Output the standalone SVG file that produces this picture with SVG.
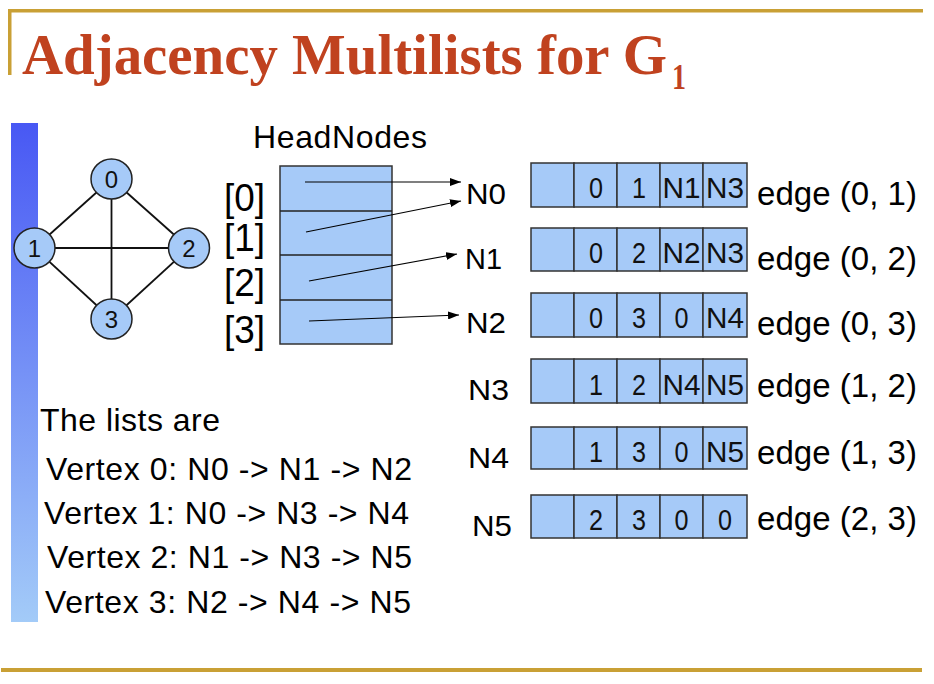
<svg xmlns="http://www.w3.org/2000/svg" width="934" height="684" viewBox="0 0 934 684">
<defs>
<linearGradient id="bar" x1="0" y1="0" x2="0" y2="1">
<stop offset="0" stop-color="#4858F4"/>
<stop offset="1" stop-color="#A3CBF8"/>
</linearGradient>
<marker id="ah" markerWidth="11" markerHeight="8" refX="11" refY="4" orient="auto" markerUnits="userSpaceOnUse">
<path d="M0,0 L11,4 L0,8 Z" fill="#000"/>
</marker>
</defs>
<style>
.t{font-family:"Liberation Sans",Arial,sans-serif;fill:#000}
.cell{fill:#A6CAF8;stroke:#333;stroke-width:1.5}
.ct{font-family:"Liberation Sans",Arial,sans-serif;font-size:29px;text-anchor:middle;fill:#111}
.et{font-family:"Liberation Sans",Arial,sans-serif;font-size:33px;fill:#000}
.nl{font-family:"Liberation Sans",Arial,sans-serif;font-size:30px;fill:#000}
.gn{fill:#A6CAF8;stroke:#222;stroke-width:1.5}
.gt{font-family:"Liberation Sans",Arial,sans-serif;font-size:24px;text-anchor:middle;fill:#111}
.ge{stroke:#111;stroke-width:1.8;fill:none}
.ar{stroke:#000;stroke-width:1.2;fill:none;marker-end:url(#ah)}
</style>
<rect width="934" height="684" fill="#fff"/>
<!-- frame -->
<rect x="8" y="9" width="915" height="3.5" fill="#C9A035"/>
<rect x="8" y="9" width="3.5" height="66" fill="#C9A035"/>
<rect x="1" y="668" width="921" height="4" fill="#C9A035"/>
<rect x="11" y="123" width="27" height="499" fill="url(#bar)"/>
<!-- title -->
<g id="title">
<text x="22" y="74" font-family="'Liberation Serif','Times New Roman',serif" font-weight="bold" font-size="57" fill="#C0421F" textLength="645" lengthAdjust="spacingAndGlyphs">Adjacency Multilists for G</text>
<text x="672" y="89" font-family="'Liberation Serif','Times New Roman',serif" font-weight="bold" font-size="35" fill="#C0421F" textLength="14" lengthAdjust="spacingAndGlyphs">1</text>
</g>
<!-- graph -->
<g id="graph-edges">
<line class="ge" x1="111.5" y1="179" x2="34.5" y2="248"/>
<line class="ge" x1="111.5" y1="179" x2="189" y2="248"/>
<line class="ge" x1="111.5" y1="179" x2="111.5" y2="319"/>
<line class="ge" x1="34.5" y1="248" x2="189" y2="248"/>
<line class="ge" x1="34.5" y1="248" x2="111.5" y2="319"/>
<line class="ge" x1="189" y1="248" x2="111.5" y2="319"/>
</g>
<g id="v0"><ellipse class="gn" cx="111.5" cy="179" rx="20.5" ry="20"/><text class="gt" x="111.5" y="188">0</text></g>
<g id="v1"><ellipse class="gn" cx="34.5" cy="248" rx="20.5" ry="20"/><text class="gt" x="34.5" y="257">1</text></g>
<g id="v2"><ellipse class="gn" cx="189" cy="248" rx="20.5" ry="20"/><text class="gt" x="189" y="257">2</text></g>
<g id="v3"><ellipse class="gn" cx="111.5" cy="319" rx="20.5" ry="20"/><text class="gt" x="111.5" y="328">3</text></g>
<!-- head nodes -->
<g id="headnodes">
<text class="t" x="253" y="148" font-size="32" textLength="174">HeadNodes</text>
<rect class="cell" x="280" y="166" width="112" height="178"/>
<line x1="280" y1="211" x2="392" y2="211" stroke="#222" stroke-width="1.5"/>
<line x1="280" y1="255" x2="392" y2="255" stroke="#222" stroke-width="1.5"/>
<line x1="280" y1="300" x2="392" y2="300" stroke="#222" stroke-width="1.5"/>
<text class="t" x="224" y="211" font-size="39" textLength="41" lengthAdjust="spacingAndGlyphs">[0]</text>
<text class="t" x="224" y="251" font-size="39" textLength="41" lengthAdjust="spacingAndGlyphs">[1]</text>
<text class="t" x="224" y="296" font-size="39" textLength="41" lengthAdjust="spacingAndGlyphs">[2]</text>
<text class="t" x="224" y="343" font-size="39" textLength="41" lengthAdjust="spacingAndGlyphs">[3]</text>
</g>
<g id="connectors">
<line class="ar" x1="305" y1="182" x2="461" y2="182"/>
<line class="ar" x1="306" y1="232" x2="461" y2="201"/>
<line class="ar" x1="309" y1="281" x2="457" y2="254"/>
<line class="ar" x1="309" y1="321" x2="459" y2="315"/>
</g>
<!-- edge nodes -->
<g id="N0">
<text class="nl" x="466" y="204" textLength="40" lengthAdjust="spacingAndGlyphs">N0</text>
<rect class="cell" x="531" y="163" width="43" height="44"/><rect class="cell" x="574" y="163" width="43" height="44"/><rect class="cell" x="617" y="163" width="43" height="44"/><rect class="cell" x="660" y="163" width="43" height="44"/><rect class="cell" x="703" y="163" width="44" height="44"/>
<text class="ct" x="596" y="198" textLength="14" lengthAdjust="spacingAndGlyphs">0</text><text class="ct" x="639" y="198" textLength="14" lengthAdjust="spacingAndGlyphs">1</text><text class="ct" x="681.5" y="198" textLength="38" lengthAdjust="spacingAndGlyphs">N1</text><text class="ct" x="725" y="198" textLength="38" lengthAdjust="spacingAndGlyphs">N3</text>
<text class="et" x="757" y="205" textLength="160">edge (0, 1)</text>
</g>
<g id="N1">
<text class="nl" x="465" y="269" textLength="37" lengthAdjust="spacingAndGlyphs">N1</text>
<rect class="cell" x="531" y="228" width="43" height="43"/><rect class="cell" x="574" y="228" width="43" height="43"/><rect class="cell" x="617" y="228" width="43" height="43"/><rect class="cell" x="660" y="228" width="43" height="43"/><rect class="cell" x="703" y="228" width="44" height="43"/>
<text class="ct" x="596" y="263" textLength="14" lengthAdjust="spacingAndGlyphs">0</text><text class="ct" x="639" y="263" textLength="14" lengthAdjust="spacingAndGlyphs">2</text><text class="ct" x="681.5" y="263" textLength="38" lengthAdjust="spacingAndGlyphs">N2</text><text class="ct" x="725" y="263" textLength="38" lengthAdjust="spacingAndGlyphs">N3</text>
<text class="et" x="757" y="270" textLength="160">edge (0, 2)</text>
</g>
<g id="N2">
<text class="nl" x="466" y="333" textLength="40" lengthAdjust="spacingAndGlyphs">N2</text>
<rect class="cell" x="531" y="293" width="43" height="44"/><rect class="cell" x="574" y="293" width="43" height="44"/><rect class="cell" x="617" y="293" width="43" height="44"/><rect class="cell" x="660" y="293" width="43" height="44"/><rect class="cell" x="703" y="293" width="44" height="44"/>
<text class="ct" x="596" y="328" textLength="14" lengthAdjust="spacingAndGlyphs">0</text><text class="ct" x="639" y="328" textLength="14" lengthAdjust="spacingAndGlyphs">3</text><text class="ct" x="681.5" y="328" textLength="14" lengthAdjust="spacingAndGlyphs">0</text><text class="ct" x="725" y="328" textLength="38" lengthAdjust="spacingAndGlyphs">N4</text>
<text class="et" x="757" y="335" textLength="160">edge (0, 3)</text>
</g>
<g id="N3">
<text class="nl" x="468" y="400" textLength="41" lengthAdjust="spacingAndGlyphs">N3</text>
<rect class="cell" x="531" y="359" width="43" height="44"/><rect class="cell" x="574" y="359" width="43" height="44"/><rect class="cell" x="617" y="359" width="43" height="44"/><rect class="cell" x="660" y="359" width="43" height="44"/><rect class="cell" x="703" y="359" width="44" height="44"/>
<text class="ct" x="596" y="395" textLength="14" lengthAdjust="spacingAndGlyphs">1</text><text class="ct" x="639" y="395" textLength="14" lengthAdjust="spacingAndGlyphs">2</text><text class="ct" x="681.5" y="395" textLength="38" lengthAdjust="spacingAndGlyphs">N4</text><text class="ct" x="725" y="395" textLength="38" lengthAdjust="spacingAndGlyphs">N5</text>
<text class="et" x="757" y="397" textLength="160">edge (1, 2)</text>
</g>
<g id="N4">
<text class="nl" x="468" y="468" textLength="41" lengthAdjust="spacingAndGlyphs">N4</text>
<rect class="cell" x="531" y="427" width="43" height="42"/><rect class="cell" x="574" y="427" width="43" height="42"/><rect class="cell" x="617" y="427" width="43" height="42"/><rect class="cell" x="660" y="427" width="43" height="42"/><rect class="cell" x="703" y="427" width="44" height="42"/>
<text class="ct" x="596" y="462" textLength="14" lengthAdjust="spacingAndGlyphs">1</text><text class="ct" x="639" y="462" textLength="14" lengthAdjust="spacingAndGlyphs">3</text><text class="ct" x="681.5" y="462" textLength="14" lengthAdjust="spacingAndGlyphs">0</text><text class="ct" x="725" y="462" textLength="38" lengthAdjust="spacingAndGlyphs">N5</text>
<text class="et" x="757" y="464" textLength="160">edge (1, 3)</text>
</g>
<g id="N5">
<text class="nl" x="472" y="536" textLength="40" lengthAdjust="spacingAndGlyphs">N5</text>
<rect class="cell" x="531" y="495" width="43" height="43"/><rect class="cell" x="574" y="495" width="43" height="43"/><rect class="cell" x="617" y="495" width="43" height="43"/><rect class="cell" x="660" y="495" width="43" height="43"/><rect class="cell" x="703" y="495" width="44" height="43"/>
<text class="ct" x="596" y="530" textLength="14" lengthAdjust="spacingAndGlyphs">2</text><text class="ct" x="639" y="530" textLength="14" lengthAdjust="spacingAndGlyphs">3</text><text class="ct" x="681.5" y="530" textLength="14" lengthAdjust="spacingAndGlyphs">0</text><text class="ct" x="725" y="530" textLength="14" lengthAdjust="spacingAndGlyphs">0</text>
<text class="et" x="757" y="530" textLength="160">edge (2, 3)</text>
</g>
<!-- lists -->
<g id="lists">
<text class="t" x="40" y="431" font-size="32" textLength="180">The lists are</text>
<text class="t" x="46" y="480" font-size="32" textLength="366">Vertex 0: N0 -&gt; N1 -&gt; N2</text>
<text class="t" x="44" y="524" font-size="32" textLength="365">Vertex 1: N0 -&gt; N3 -&gt; N4</text>
<text class="t" x="47" y="568" font-size="32" textLength="365">Vertex 2: N1 -&gt; N3 -&gt; N5</text>
<text class="t" x="45" y="613" font-size="32" textLength="366">Vertex 3: N2 -&gt; N4 -&gt; N5</text>
</g>
</svg>
